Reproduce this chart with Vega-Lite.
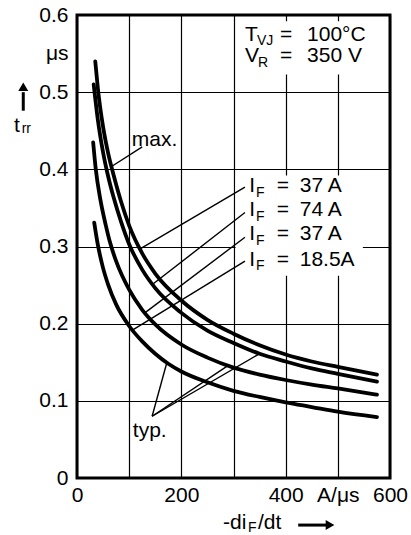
{
  "$schema": "https://vega.github.io/schema/vega-lite/v6.json",
  "width": 313,
  "height": 463,
  "autosize": "none",
  "padding": {"left": 77, "top": 15, "right": 21, "bottom": 57},
  "background": "white",
  "config": {
    "view": {"stroke": "black", "strokeWidth": 3},
    "font": "Liberation Sans",
    "text": {"font": "Liberation Sans", "color": "black"}
  },
  "datasets": {
    "curves": [
      {"s": "max37", "x": 35, "y": 0.54}, {"s": "max37", "x": 40, "y": 0.505}, {"s": "max37", "x": 50, "y": 0.455}, {"s": "max37", "x": 60, "y": 0.42}, {"s": "max37", "x": 70, "y": 0.393}, {"s": "max37", "x": 85, "y": 0.357}, {"s": "max37", "x": 100, "y": 0.327}, {"s": "max37", "x": 125, "y": 0.291}, {"s": "max37", "x": 150, "y": 0.265}, {"s": "max37", "x": 200, "y": 0.23}, {"s": "max37", "x": 250, "y": 0.205}, {"s": "max37", "x": 300, "y": 0.187}, {"s": "max37", "x": 350, "y": 0.172}, {"s": "max37", "x": 400, "y": 0.16}, {"s": "max37", "x": 450, "y": 0.151}, {"s": "max37", "x": 500, "y": 0.144}, {"s": "max37", "x": 575, "y": 0.134},
      {"s": "typ74", "x": 32, "y": 0.51}, {"s": "typ74", "x": 40, "y": 0.464}, {"s": "typ74", "x": 50, "y": 0.422}, {"s": "typ74", "x": 60, "y": 0.39}, {"s": "typ74", "x": 70, "y": 0.364}, {"s": "typ74", "x": 85, "y": 0.331}, {"s": "typ74", "x": 100, "y": 0.303}, {"s": "typ74", "x": 125, "y": 0.27}, {"s": "typ74", "x": 150, "y": 0.246}, {"s": "typ74", "x": 200, "y": 0.214}, {"s": "typ74", "x": 250, "y": 0.191}, {"s": "typ74", "x": 300, "y": 0.175}, {"s": "typ74", "x": 350, "y": 0.161}, {"s": "typ74", "x": 400, "y": 0.151}, {"s": "typ74", "x": 450, "y": 0.142}, {"s": "typ74", "x": 500, "y": 0.135}, {"s": "typ74", "x": 575, "y": 0.125},
      {"s": "typ37", "x": 31, "y": 0.435}, {"s": "typ37", "x": 36, "y": 0.4}, {"s": "typ37", "x": 45, "y": 0.36}, {"s": "typ37", "x": 55, "y": 0.328}, {"s": "typ37", "x": 63, "y": 0.306}, {"s": "typ37", "x": 75, "y": 0.281}, {"s": "typ37", "x": 100, "y": 0.244}, {"s": "typ37", "x": 125, "y": 0.218}, {"s": "typ37", "x": 150, "y": 0.199}, {"s": "typ37", "x": 200, "y": 0.173}, {"s": "typ37", "x": 250, "y": 0.156}, {"s": "typ37", "x": 300, "y": 0.143}, {"s": "typ37", "x": 350, "y": 0.134}, {"s": "typ37", "x": 400, "y": 0.127}, {"s": "typ37", "x": 450, "y": 0.121}, {"s": "typ37", "x": 500, "y": 0.116}, {"s": "typ37", "x": 575, "y": 0.108},
      {"s": "typ18", "x": 33, "y": 0.331}, {"s": "typ18", "x": 40, "y": 0.302}, {"s": "typ18", "x": 50, "y": 0.272}, {"s": "typ18", "x": 60, "y": 0.25}, {"s": "typ18", "x": 75, "y": 0.225}, {"s": "typ18", "x": 100, "y": 0.197}, {"s": "typ18", "x": 125, "y": 0.177}, {"s": "typ18", "x": 150, "y": 0.161}, {"s": "typ18", "x": 175, "y": 0.148}, {"s": "typ18", "x": 200, "y": 0.138}, {"s": "typ18", "x": 250, "y": 0.124}, {"s": "typ18", "x": 300, "y": 0.113}, {"s": "typ18", "x": 350, "y": 0.105}, {"s": "typ18", "x": 400, "y": 0.098}, {"s": "typ18", "x": 450, "y": 0.092}, {"s": "typ18", "x": 500, "y": 0.086}, {"s": "typ18", "x": 575, "y": 0.079}
    ],
    "leaders": [
      {"x": 125, "y": 0.429, "x2": 67, "y2": 0.404},
      {"x": 322, "y": 0.377, "x2": 121, "y2": 0.297},
      {"x": 322, "y": 0.344, "x2": 145, "y2": 0.251},
      {"x": 322, "y": 0.312, "x2": 130, "y2": 0.214},
      {"x": 322, "y": 0.281, "x2": 107, "y2": 0.192},
      {"x": 144, "y": 0.08, "x2": 172, "y2": 0.149},
      {"x": 144, "y": 0.08, "x2": 290, "y2": 0.146},
      {"x": 144, "y": 0.08, "x2": 347, "y2": 0.16}
    ],
    "boxes": [
      {"x": 312, "x2": 592, "y": 0.523, "y2": 0.592},
      {"x": 304, "x2": 548, "y": 0.262, "y2": 0.392}
    ],
    "bigtext": [
      {"x": 322, "y": 0.566, "t": "T"},
      {"x": 389, "y": 0.566, "t": "="},
      {"x": 441, "y": 0.566, "t": "100°C"},
      {"x": 322, "y": 0.539, "t": "V"},
      {"x": 389, "y": 0.539, "t": "="},
      {"x": 441, "y": 0.539, "t": "350 V"},
      {"x": 330, "y": 0.37, "t": "I"},
      {"x": 383, "y": 0.37, "t": "="},
      {"x": 427, "y": 0.37, "t": "37 A"},
      {"x": 330, "y": 0.339, "t": "I"},
      {"x": 383, "y": 0.339, "t": "="},
      {"x": 427, "y": 0.339, "t": "74 A"},
      {"x": 330, "y": 0.308, "t": "I"},
      {"x": 383, "y": 0.308, "t": "="},
      {"x": 427, "y": 0.308, "t": "37 A"},
      {"x": 330, "y": 0.275, "t": "I"},
      {"x": 383, "y": 0.275, "t": "="},
      {"x": 427, "y": 0.275, "t": "18.5A"},
      {"x": 105, "y": 0.43, "t": "max."},
      {"x": 107, "y": 0.053, "t": "typ."},
      {"x": -121, "y": 0.449, "t": "t"},
      {"x": 280, "y": -0.066, "t": "-di"},
      {"x": 347, "y": -0.066, "t": "/dt"}
    ],
    "subtext": [
      {"x": 345, "y": 0.561, "t": "VJ"},
      {"x": 347, "y": 0.533, "t": "R"},
      {"x": 343, "y": 0.364, "t": "F"},
      {"x": 343, "y": 0.333, "t": "F"},
      {"x": 343, "y": 0.302, "t": "F"},
      {"x": 343, "y": 0.269, "t": "F"},
      {"x": -106, "y": 0.447, "t": "rr"},
      {"x": 328, "y": -0.0705, "t": "F"}
    ],
    "arrowshaft": [
      {"x": -103, "y": 0.476, "x2": -103, "y2": 0.5},
      {"x": 424, "y": -0.061, "x2": 478, "y2": -0.061}
    ],
    "arrowhead": [
      {"x": -103, "y": 0.507, "d": "up"},
      {"x": 485, "y": -0.061, "d": "right"}
    ]
  },
  "layer": [
    {
      "data": {"name": "boxes"},
      "mark": {"type": "rect", "fill": "white", "clip": false},
      "encoding": {
        "x": {"field": "x", "type": "quantitative", "scale": {"domain": [0, 600], "nice": false, "zero": false},
          "axis": {"values": [0, 100, 200, 300, 400, 500, 600], "labelExpr": "datum.value == 500 ? 'A/μs' : (datum.value % 200 == 0 ? datum.label : '')", "grid": true, "gridColor": "black", "gridWidth": 1.2, "gridOpacity": 1, "domain": false, "ticks": false, "labelFlush": false, "labelFontSize": 21, "labelColor": "black", "labelFont": "Liberation Sans", "labelPadding": 6, "title": null}},
        "x2": {"field": "x2"},
        "y": {"field": "y", "type": "quantitative", "scale": {"domain": [0, 0.6], "nice": false, "zero": false},
          "axis": {"values": [0, 0.1, 0.2, 0.3, 0.4, 0.5, 0.55, 0.6], "labelExpr": "datum.value == 0.55 ? 'μs' : (datum.value == 0 ? '0' : format(datum.value, '.1f'))", "grid": true, "gridColor": "black", "gridWidth": 1.2, "gridOpacity": {"condition": {"test": "datum.value == 0.55", "value": 0}, "value": 1}, "domain": false, "ticks": false, "labelFlush": false, "labelFontSize": 21, "labelColor": "black", "labelFont": "Liberation Sans", "labelPadding": 9, "title": null}},
        "y2": {"field": "y2"}
      }
    },
    {
      "data": {"name": "leaders"},
      "mark": {"type": "rule", "color": "black", "strokeWidth": 1.4, "clip": false},
      "encoding": {
        "x": {"field": "x", "type": "quantitative"},
        "y": {"field": "y", "type": "quantitative"},
        "x2": {"field": "x2"},
        "y2": {"field": "y2"}
      }
    },
    {
      "data": {"name": "curves"},
      "mark": {"type": "line", "color": "black", "strokeWidth": 3.8, "interpolate": "monotone", "strokeCap": "round"},
      "encoding": {
        "x": {"field": "x", "type": "quantitative"},
        "y": {"field": "y", "type": "quantitative"},
        "detail": {"field": "s", "type": "nominal"}
      }
    },
    {
      "data": {"name": "bigtext"},
      "mark": {"type": "text", "fontSize": 21, "align": "left", "baseline": "alphabetic", "clip": false},
      "encoding": {
        "x": {"field": "x", "type": "quantitative"},
        "y": {"field": "y", "type": "quantitative"},
        "text": {"field": "t"}
      }
    },
    {
      "data": {"name": "subtext"},
      "mark": {"type": "text", "fontSize": 14, "align": "left", "baseline": "alphabetic", "clip": false},
      "encoding": {
        "x": {"field": "x", "type": "quantitative"},
        "y": {"field": "y", "type": "quantitative"},
        "text": {"field": "t"}
      }
    },
    {
      "data": {"name": "arrowshaft"},
      "mark": {"type": "rule", "color": "black", "strokeWidth": 3, "clip": false},
      "encoding": {
        "x": {"field": "x", "type": "quantitative"},
        "y": {"field": "y", "type": "quantitative"},
        "x2": {"field": "x2"},
        "y2": {"field": "y2"}
      }
    },
    {
      "data": {"name": "arrowhead"},
      "mark": {"type": "point", "filled": true, "color": "black", "opacity": 1, "size": 100, "clip": false},
      "encoding": {
        "x": {"field": "x", "type": "quantitative"},
        "y": {"field": "y", "type": "quantitative"},
        "shape": {"field": "d", "type": "nominal", "scale": {"domain": ["up", "right"], "range": ["triangle-up", "triangle-right"]}, "legend": null}
      }
    }
  ]
}
